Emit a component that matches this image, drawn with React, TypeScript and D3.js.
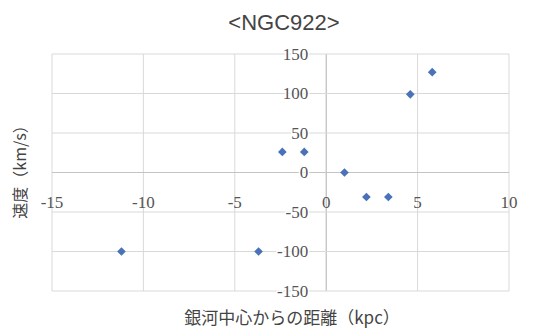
import React from "react";
import * as d3 from "d3";

const title = "<NGC922>";
const xLabel = "銀河中心からの距離（kpc）";
const yLabel = "速度（km/s）";
const xTicks = [-15, -10, -5, 0, 5, 10];
const yTicks = [150, 100, 50, 0, -50, -100, -150];
const distances = [-11.2, -3.7, -2.4, -1.2, 1.0, 2.2, 3.4, 4.6, 5.8];
const velocities = [-100, -100, 26, 26, 0, -31, -31, 99, 127];

const W = 554;
const H = 329;
const plot = { left: 52, right: 509, top: 54, bottom: 291 };

const serif = "'Liberation Serif', 'DejaVu Serif', serif";

export default function App() {
  const x = d3.scaleLinear().domain([-15, 10]).range([plot.left, plot.right]);
  const y = d3.scaleLinear().domain([-150, 150]).range([plot.bottom, plot.top]);
  const diamond = d3.symbol().type(d3.symbolDiamond2).size(48)();
  const fmt = (v: number) => (v < 0 ? "-" + Math.abs(v) : String(v));
  return (
    <svg
      width={W}
      height={H}
      style={{ position: "absolute", left: 0, top: 0, background: "#fff" }}
    >
      <rect x={0} y={0} width={W} height={H} fill="#fff" />
      {xTicks.map((t) => (
        <line
          key={"gx" + t}
          x1={x(t)}
          x2={x(t)}
          y1={plot.top}
          y2={plot.bottom}
          stroke={t === 0 ? "#b0b0b0" : "#d9d9d9"}
          strokeWidth={1}
        />
      ))}
      {yTicks.map((t) => (
        <line
          key={"gy" + t}
          x1={plot.left}
          x2={plot.right}
          y1={y(t)}
          y2={y(t)}
          stroke={t === 0 ? "#c4c4c4" : "#d9d9d9"}
          strokeWidth={1}
        />
      ))}
      {yTicks.map((t) => (
        <text
          key={"ly" + t}
          x={x(0) - 18}
          y={y(t)}
          dy="0.35em"
          textAnchor="end"
          style={{ fontFamily: serif, fontSize: 17, paintOrder: "stroke" }}
          fill="#555"
          stroke="#fff"
          strokeWidth={3}
        >
          {fmt(t)}
        </text>
      ))}
      {xTicks.map((t) => (
        <text
          key={"lx" + t}
          x={x(t)}
          y={y(0) + 30}
          dy="0.35em"
          textAnchor="middle"
          style={{ fontFamily: serif, fontSize: 17 }}
          fill="#555"
        >
          {fmt(t)}
        </text>
      ))}
      {distances.map((d, i) => (
        <path
          key={"p" + i}
          d={diamond as string}
          transform={`translate(${x(d)},${y(velocities[i])})`}
          fill="#4a72b8"
        />
      ))}
      <text
        x={284}
        y={22}
        dy="0.35em"
        textAnchor="middle"
        style={{ fontFamily: "Liberation Sans, Arial, sans-serif", fontSize: 22 }}
        fill="#444"
      >
        {title}
      </text>
      <text
        x={292}
        y={318}
        dy="0.35em"
        textAnchor="middle"
        style={{ fontFamily: "Noto Sans CJK JP, sans-serif", fontSize: 17 }}
        fill="#444"
      >
        {xLabel}
      </text>
      <text
        transform={`translate(20,168) rotate(-90)`}
        dy="0.35em"
        textAnchor="middle"
        style={{ fontFamily: "Noto Sans CJK JP, sans-serif", fontSize: 16 }}
        fill="#444"
      >
        {yLabel}
      </text>
    </svg>
  );
}
